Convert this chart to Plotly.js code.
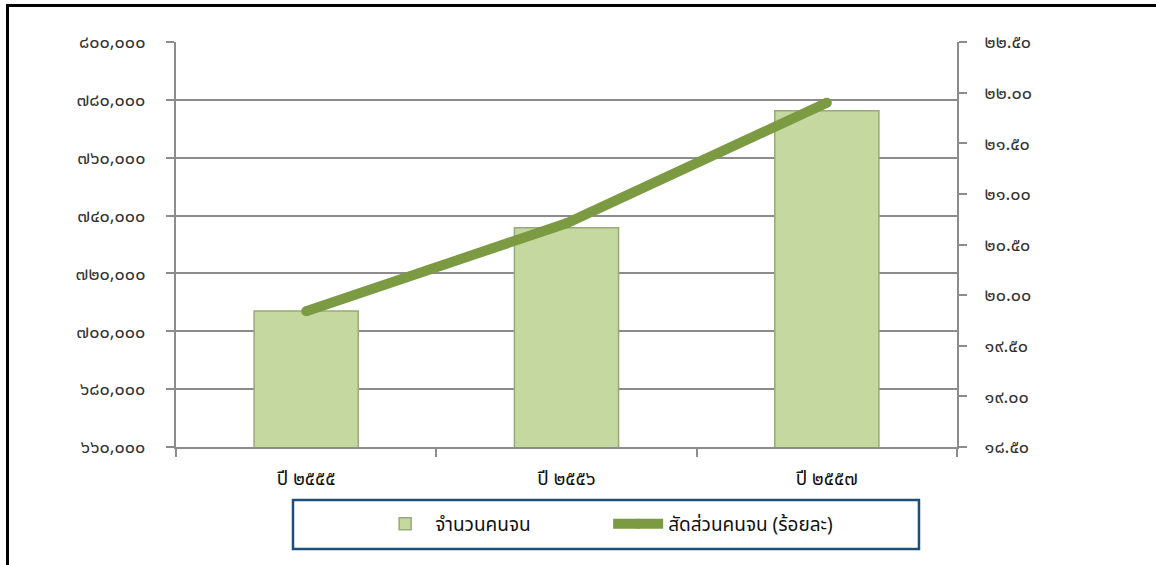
<!DOCTYPE html>
<html>
<head>
<meta charset="utf-8">
<script src="https://cdn.plot.ly/plotly-3.0.1.min.js"></script>
<style>
html,body{margin:0;padding:0;background:#fff;}
#chart{position:absolute;left:0;top:0;width:1156px;height:565px;}
#frame{position:absolute;left:6px;top:4px;width:1160px;height:570px;border-left:3px solid #000;border-top:3px solid #000;pointer-events:none;}
</style>
</head>
<body>
<div id="chart"></div>
<div id="frame"></div>
<script>
// Data
var categories = ['ปี ๒๕๕๕', 'ปี ๒๕๕๖', 'ปี ๒๕๕๗'];
var poorCount = [707000, 735800, 776200];      // จำนวนคนจน
var poorRatio = [19.84, 20.71, 21.90];         // สัดส่วนคนจน (ร้อยละ)

var leftTickVals = [660000, 680000, 700000, 720000, 740000, 760000, 780000, 800000];
var leftTickText = ['๖๖๐,๐๐๐', '๖๘๐,๐๐๐', '๗๐๐,๐๐๐', '๗๒๐,๐๐๐', '๗๔๐,๐๐๐', '๗๖๐,๐๐๐', '๗๘๐,๐๐๐', '๘๐๐,๐๐๐'];
var rightTickVals = [18.5, 19.0, 19.5, 20.0, 20.5, 21.0, 21.5, 22.0, 22.5];
var rightTickText = ['๑๘.๕๐', '๑๙.๐๐', '๑๙.๕๐', '๒๐.๐๐', '๒๐.๕๐', '๒๑.๐๐', '๒๑.๕๐', '๒๒.๐๐', '๒๒.๕๐'];

var FONT = 'Tahoma, "Noto Sans Thai", "Noto Sans", "DejaVu Sans", sans-serif';
var AXIS = '#8c8c8c';

var traces = [
  {
    type: 'bar',
    name: 'จำนวนคนจน',
    x: categories,
    y: poorCount,
    yaxis: 'y',
    width: 0.4,
    marker: {color: '#c4d89f', line: {color: '#98aa79', width: 1.5}},
    hoverinfo: 'x+y'
  },
  {
    type: 'scatter',
    mode: 'lines+markers',
    name: 'สัดส่วนคนจน (ร้อยละ)',
    x: categories,
    y: poorRatio,
    yaxis: 'y2',
    line: {color: '#7b9a42', width: 10},
    marker: {color: '#7b9a42', size: 10},
    hoverinfo: 'x+y'
  }
];

var layout = {
  width: 1156,
  height: 565,
  margin: {l: 176, r: 199, t: 42, b: 118},
  paper_bgcolor: '#ffffff',
  plot_bgcolor: '#ffffff',
  font: {family: FONT, size: 15, color: '#222'},
  showlegend: true,
  xaxis: {
    type: 'category',
    showline: true, linecolor: AXIS, linewidth: 2,
    ticks: 'outside', tickson: 'boundaries', ticklen: 8, tickcolor: AXIS, tickwidth: 2,
    showgrid: false,
    tickfont: {family: FONT, size: 19, color: '#111'},
    ticklabelstandoff: 13,
    fixedrange: true
  },
  yaxis: {
    range: [660000, 800000],
    tickvals: leftTickVals, ticktext: leftTickText,
    showline: true, linecolor: AXIS, linewidth: 2,
    ticks: 'outside', ticklen: 8, tickcolor: AXIS, tickwidth: 2,
    showgrid: true, gridcolor: AXIS, gridwidth: 2,
    zeroline: false,
    tickfont: {family: FONT, size: 18, color: '#333'},
    ticklabelstandoff: 17,
    fixedrange: true
  },
  yaxis2: {
    range: [18.5, 22.5],
    overlaying: 'y', side: 'right',
    tickvals: rightTickVals, ticktext: rightTickText,
    showline: true, linecolor: AXIS, linewidth: 2,
    ticks: 'outside', ticklen: 8, tickcolor: AXIS, tickwidth: 2,
    showgrid: false, zeroline: false,
    tickfont: {family: FONT, size: 18, color: '#333'},
    ticklabelstandoff: 14,
    fixedrange: true
  },
  legend: {
    orientation: 'h',
    x: 0.255, xanchor: 'left',
    y: -0.19, yanchor: 'middle',
    bgcolor: 'rgba(0,0,0,0)',
    borderwidth: 0,
    font: {family: FONT, size: 19, color: '#111'},
    itemwidth: 50,
    entrywidth: 168,
    traceorder: 'normal'
  },
  shapes: [
    {
      type: 'rect', xref: 'paper', yref: 'paper',
      x0: 0.1498, x1: 0.9513, y0: -0.2519, y1: -0.1309,
      line: {color: '#1f4e79', width: 2.5},
      fillcolor: 'rgba(0,0,0,0)'
    }
  ]
};

Plotly.newPlot('chart', traces, layout, {displayModeBar: false, staticPlot: true});
</script>
</body>
</html>
